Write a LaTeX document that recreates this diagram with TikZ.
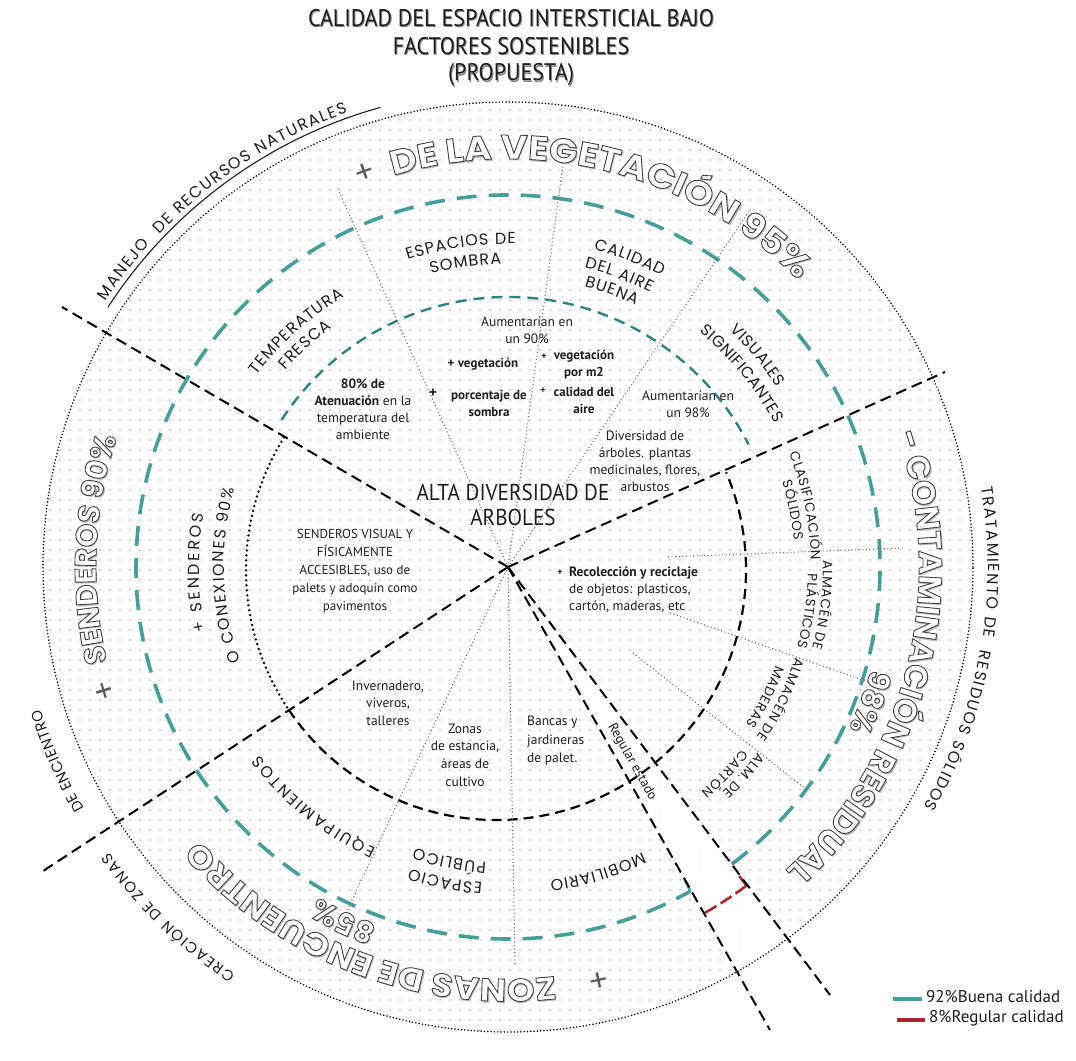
\documentclass[tikz,border=0pt]{standalone}
\usepackage{fontspec}
\usetikzlibrary{patterns.meta}
\setmainfont{PT Sans}
\newfontfamily\din{PT Sans}
\newfontfamily\dint{PT Sans}[FakeStretch=0.92]
\newfontfamily\geo{Poppins}
\newfontfamily\geoW{Poppins}[FakeStretch=1.1]
\definecolor{tealA}{RGB}{70,158,152}
\definecolor{tealB}{RGB}{48,132,127}
\definecolor{redq}{RGB}{165,38,45}
\definecolor{ink}{RGB}{30,30,30}
\newcommand\rkplace[5]{\node[inner sep=0pt,anchor=base,rotate=#4] at ([shift={(#2:#3)}]#1) {#5};}
\ExplSyntaxOn
\dim_new:N \l__rk_total_dim
\dim_new:N \l__rk_w_dim
\box_new:N \g__rk_box
\fp_new:N \l__rk_ang_fp
\tl_new:N \l__rk_ang_tl
\tl_new:N \l__rk_rot_tl
\cs_new_protected:Npn \__rk_measure:n #1
 {
   \pgfinterruptpicture
   \hbox_gset:Nn \g__rk_box { #1 }
   \endpgfinterruptpicture
 }
\NewDocumentCommand \curvtext { O{0} m m m m m }
 {
   \dim_zero:N \l__rk_total_dim
   \tl_map_inline:nn {#6}
     {
       \__rk_measure:n { #5 ##1 }
       \dim_add:Nn \l__rk_total_dim { \box_wd:N \g__rk_box + #1 pt }
     }
   \dim_sub:Nn \l__rk_total_dim { #1 pt }
   \fp_set:Nn \l__rk_ang_fp { #3 + \dim_to_fp:n { \l__rk_total_dim } / (#4) * 90 / pi }
   \tl_map_inline:nn {#6}
     {
       \__rk_measure:n { #5 ##1 }
       \dim_set:Nn \l__rk_w_dim { \box_wd:N \g__rk_box }
       \fp_sub:Nn \l__rk_ang_fp { \dim_to_fp:n { \l__rk_w_dim } / (#4) * 90 / pi }
       \tl_set:Nx \l__rk_ang_tl { \fp_eval:n { round(\l__rk_ang_fp, 4) } }
       \tl_set:Nx \l__rk_rot_tl { \fp_eval:n { round(\l__rk_ang_fp - 90, 4) } }
       \rkplace {#2} { \l__rk_ang_tl } {#4} { \l__rk_rot_tl } { #5 ##1 }
       \fp_sub:Nn \l__rk_ang_fp { ( \dim_to_fp:n { \l__rk_w_dim } + #1 ) / (#4) * 90 / pi }
     }
 }
\ExplSyntaxOff
\newcommand\secf{\geo\fontsize{16}{16}\selectfont\color{ink}}
\newcommand\secs{\geo\fontsize{13.5}{13.5}\selectfont\color{ink}}
\newcommand\outf{\geo\fontsize{16}{16}\selectfont\color{ink}}
\newcommand\outs{\geo\fontsize{15}{15}\selectfont\color{ink}}
\newcommand\bigf[2]{#1\bfseries\fontsize{#2}{#2}\selectfont\color{white}\special{pdf:literal direct 2 Tr 0.9 w 0.25 0.25 0.25 RG}}
\newcommand\shf[2]{#1\bfseries\fontsize{#2}{#2}\selectfont\color{black!28}}
\newcommand\plf{\geo\fontsize{30}{30}\selectfont\color{black!65}}
\tikzset{
  blk/.style={line width=2pt,dash pattern=on 11pt off 6pt,black},
  gdot/.style={line width=1.1pt,dash pattern=on 1pt off 2.6pt,black!60},
  intext/.style={font=\din\fontsize{13.5}{17}\selectfont,text=ink,align=center,inner sep=0pt},
  ttl/.style={font=\dint\fontsize{24}{28}\selectfont,inner sep=0pt},
  lgd/.style={font=\din\fontsize{17}{19}\selectfont,text=ink,anchor=west,inner sep=0pt}
}
\begin{document}
\begin{tikzpicture}[x=1pt,y=1pt]
\useasboundingbox (0,0) rectangle (1076,1060);
\fill[white] (0,0) rectangle (1076,1060);
\coordinate (C) at (508,493);
\coordinate (Cs) at (509.6,491);
\coordinate (Ci) at (496,490);
\coordinate (L1) at (62,753);
\coordinate (L2) at (945,688);
\coordinate (L3) at (40,187);
\coordinate (L4a) at (770,30);
\coordinate (L4b) at (830,65);
\coordinate (D1) at (337,873);
\coordinate (D2) at (563,895);
\coordinate (D3) at (750,850);
\coordinate (D4) at (345,145);
\coordinate (D5) at (515,95);
\coordinate (H1s) at (668,503);
\coordinate (H1e) at (905,512);
\coordinate (H2s) at (670,447);
\coordinate (H2e) at (877,375);
\coordinate (H3s) at (633,407);
\coordinate (H3e) at (807,270);
% background dots
\fill[pattern={Dots[distance=10pt,radius=0.85pt]},pattern color=black!30] (C) circle[radius=465];
\fill[white,opacity=0.8] (C) -- (L4a) -- (L4b) -- cycle;
% outer dotted circle
\draw[line width=1.7pt,dash pattern=on 0pt off 3.3pt,line cap=round] (C) circle[radius=465];
% teal rings
\draw[tealA,line width=3.6pt,dash pattern=on 20pt off 12pt] ([shift={(-53:372)}]C) arc[start angle=-53,end angle=299.4,radius=372];
\draw[tealA,line width=2.4pt] ([shift={(-60.6:372)}]C) -- ([shift={(-60.6:360)}]C);
\draw[redq,line width=2.6pt,dash pattern=on 13pt off 5pt] ([shift={(-60.3:398)}]C) arc[start angle=-60.3,end angle=-53.2,radius=398];
\draw[redq,line width=2.4pt] ([shift={(-53.2:398)}]C) -- ([shift={(-53.2:386)}]C);
\draw[tealB,line width=2.4pt,dash pattern=on 11pt off 7pt] ([shift={(147:270)}]C) arc[start angle=147,end angle=27,radius=270];
% inner black circle
\draw[line width=2.2pt,dash pattern=on 10pt off 6pt] ([shift={(214:250)}]Ci) arc[start angle=214,end angle=383,radius=250];
\draw[line width=2.7pt,dash pattern=on 0pt off 5pt,line cap=round] ([shift={(148:250)}]Ci) arc[start angle=148,end angle=214,radius=250];
% underline of outer label
\draw[line width=1.1pt,ink] ([shift={(147:477)}]C) arc[start angle=147,end angle=105.5,radius=477];
% gray dotted lines
\draw[gdot] (C) -- (D1);
\draw[gdot] (C) -- (D2);
\draw[gdot] (C) -- (D3);
\draw[gdot] (C) -- (D4);
\draw[gdot] (C) -- (D5);
\draw[gdot] (H1s) -- (H1e);
\draw[gdot] (H2s) -- (H2e);
\draw[gdot] (H3s) -- (H3e);
% radial black lines
\draw[blk] (C) -- (L1);
\draw[blk] (C) -- (L2);
\draw[blk] (C) -- (L3);
\draw[blk] (C) -- (L4a);
\draw[blk] (C) -- (L4b);
% title
\node[ttl,text=black!45] (t1s) at (512,1040.5) {CALIDAD DEL ESPACIO INTERSTICIAL BAJO};
\node[ttl,text=black!45] (t2s) at (512,1012.5) {FACTORES SOSTENIBLES};
\node[ttl,text=black!45] (t3s) at (512,983.5) {(PROPUESTA)};
\node[ttl,text=ink] (t1) at (511,1042) {CALIDAD DEL ESPACIO INTERSTICIAL BAJO};
\node[ttl,text=ink] (t2) at (511,1014) {FACTORES SOSTENIBLES};
\node[ttl,text=ink] (t3) at (511,985) {(PROPUESTA)};
% inner texts
\node[intext] (aum90) at (527,730) {Aumentarían en\\un 90\%};
\node[intext,font=\din\bfseries\fontsize{13}{17}\selectfont] (veg1) at (483,696) {+ vegetación};
\node[intext,font=\din\bfseries\fontsize{15}{17}\selectfont] (pl1) at (433,667) {+};
\node[intext,font=\din\bfseries\fontsize{13}{17}\selectfont] (porc) at (489,656.5) {porcentaje de\\sombra};
\node[intext,font=\din\bfseries\fontsize{10}{17}\selectfont] (pl2) at (544,703) {+};
\node[intext,font=\din\bfseries\fontsize{13}{17}\selectfont] (vegm) at (584,695.5) {vegetación\\por m2};
\node[intext,font=\din\bfseries\fontsize{10}{17}\selectfont] (pl3) at (543,669) {+};
\node[intext,font=\din\bfseries\fontsize{13}{17}\selectfont] (cala) at (584,660) {calidad del\\aire};
\node[intext] (aum98) at (688,656) {Aumentarían en\\un 98\%};
\node[intext] (div) at (645,599) {Diversidad de\\árboles. plantas\\medicinales, flores,\\arbustos};
\node[intext] (aten) at (363,651) {\textbf{80\% de}\\\textbf{Atenuación} en la\\temperatura del\\ambiente};
\node[intext,font=\dint\fontsize{23}{25}\selectfont] (alta) at (513,555) {ALTA DIVERSIDAD DE\\ARBOLES};
\node[intext,font=\din\fontsize{13}{18}\selectfont] (send) at (355,489) {SENDEROS VISUAL Y\\FÍSICAMENTE\\ACCESIBLES, uso de\\palets y adoquín como\\pavimentos};
\node[intext,font=\din\bfseries\fontsize{10}{17}\selectfont] (pl4) at (560,487) {+};
\node[intext,align=left,anchor=west] (recol) at (569,470) {\textbf{Recolección y reciclaje}\\de objetos: plasticos,\\cartón, maderas, etc};
\node[intext,font=\din\fontsize{13.5}{17.5}\selectfont] (inv) at (388,357) {Invernadero,\\viveros,\\talleres};
\node[intext,font=\din\fontsize{13.5}{17.7}\selectfont] (zon) at (465,305) {Zonas\\de estancia,\\áreas de\\cultivo};
\node[intext,align=left,anchor=west,font=\din\fontsize{13.5}{18.5}\selectfont] (banc) at (527,319) {Bancas y\\jardineras\\de palet.};
\node[intext,rotate=-60.5] (reg) at (632,298) {Regular estado};
% sector labels
\curvtext[2]{C}{131}{316}{\secf}{TEMPERATURA}
\curvtext[2]{C}{132}{297}{\secf}{FRESCA}
\curvtext[2]{C}{97.5}{323}{\secf}{ESPACIOS~DE}
\curvtext[2]{C}{97.5}{303}{\secf}{SOMBRA}
\curvtext[2]{C}{68}{329}{\secf}{CALIDAD}
\curvtext[2]{C}{68.5}{309}{\secf}{DEL~AIRE}
\curvtext[2]{C}{69}{291}{\secf}{BUENA}
\curvtext[1]{C}{40}{324}{\secf}{VISUALES}
\curvtext[1]{C}{39}{303}{\secf}{SIGNIFICANTES}
\curvtext[1.5]{C}{10.8}{303}{\secs}{CLASIFICACIÓN}
\curvtext[1.5]{C}{10.8}{287}{\secs}{SÓLIDOS}
\curvtext[1.5]{C}{-7.5}{315}{\secs}{ALMACÉN~DE}
\curvtext[1]{C}{-8.8}{300}{\secs}{PLÁSTICOS}
\curvtext[1.5]{C}{-26.6}{301}{\secs}{ALMACÉN~DE}
\curvtext[1.5]{C}{-27.3}{285}{\secs}{MADERAS}
\curvtext[1.5]{C}{-42}{311}{\secs}{ALM.~DE}
\curvtext[1.5]{C}{-44}{296}{\secs}{CARTÓN}
\curvtext[2]{C}{-74.4}{316}{\secf}{MOBILIARIO}
\curvtext[2.5]{C}{258}{317}{\secf}{ESPACIO}
\curvtext[2.5]{C}{258}{296}{\secf}{PÚBLICO}
\curvtext[4.5]{C}{228.5}{311}{\secf}{EQUIPAMIENTOS}
\curvtext[5]{C}{179}{309}{\secf}{+~SENDEROS}
\curvtext[3]{C}{179.5}{284}{\secf}{O~CONEXIONES~90\%}
% outer labels
\curvtext[3]{C}{125.5}{482}{\outf}{MANEJO~~DE~RECURSOS~NATURALES}
\curvtext[3]{C}{-13}{480}{\outf}{TRATAMIENTO~DE~~RESIDUOS~SÓLIDOS}
\curvtext[1]{C}{203}{488}{\outs}{DE~ENCIENTRO}
\curvtext[3]{C}{224.5}{490}{\outs}{CREACIÓN~DE~ZONAS}
% legend
\draw[tealA,line width=3.5pt] (893,61) -- (922,61);
\node[lgd] (lg1) at (926,63) {92\%Buena calidad};
\draw[redq,line width=3.5pt] (897,40) -- (925,40);
\node[lgd] (lg2) at (929,42) {8\%Regular calidad};
% big outlined texts: shadows
\curvtext{Cs}{75.5}{408}{\shf{\geoW}{34}}{DE~LA~VEGETACIÓN~95\%}
\curvtext{Cs}{-14.3}{411}{\shf{\geo}{32.5}}{-~CONTAMINACIÓN~RESIDUAL}
\curvtext{Cs}{-20.5}{377}{\shf{\geo}{30}}{98\%}
\curvtext{Cs}{177.5}{412}{\shf{\geo}{30}}{SENDEROS~90\%}
\curvtext{Cs}{249}{412}{\shf{\geoW}{32}}{ZONAS~DE~ENCUENTRO}
\curvtext{Cs}{245}{381}{\shf{\geo}{30}}{85\%}
% thin plus signs
\curvtext{C}{110}{410}{\plf}{+}
\curvtext{C}{197}{412}{\plf}{+}
\curvtext{C}{282.4}{412}{\plf}{+}
% big outlined texts
\curvtext{C}{75.5}{408}{\bigf{\geoW}{34}}{DE~LA~VEGETACIÓN~95\%}
\curvtext{C}{-14.3}{411}{\bigf{\geo}{32.5}}{-~CONTAMINACIÓN~RESIDUAL}
\curvtext{C}{-20.5}{377}{\bigf{\geo}{30}}{98\%}
\curvtext{C}{177.5}{412}{\bigf{\geo}{30}}{SENDEROS~90\%}
\curvtext{C}{249}{412}{\bigf{\geoW}{32}}{ZONAS~DE~ENCUENTRO}
\curvtext{C}{245}{381}{\bigf{\geo}{30}}{85\%}
\end{tikzpicture}
\end{document}
